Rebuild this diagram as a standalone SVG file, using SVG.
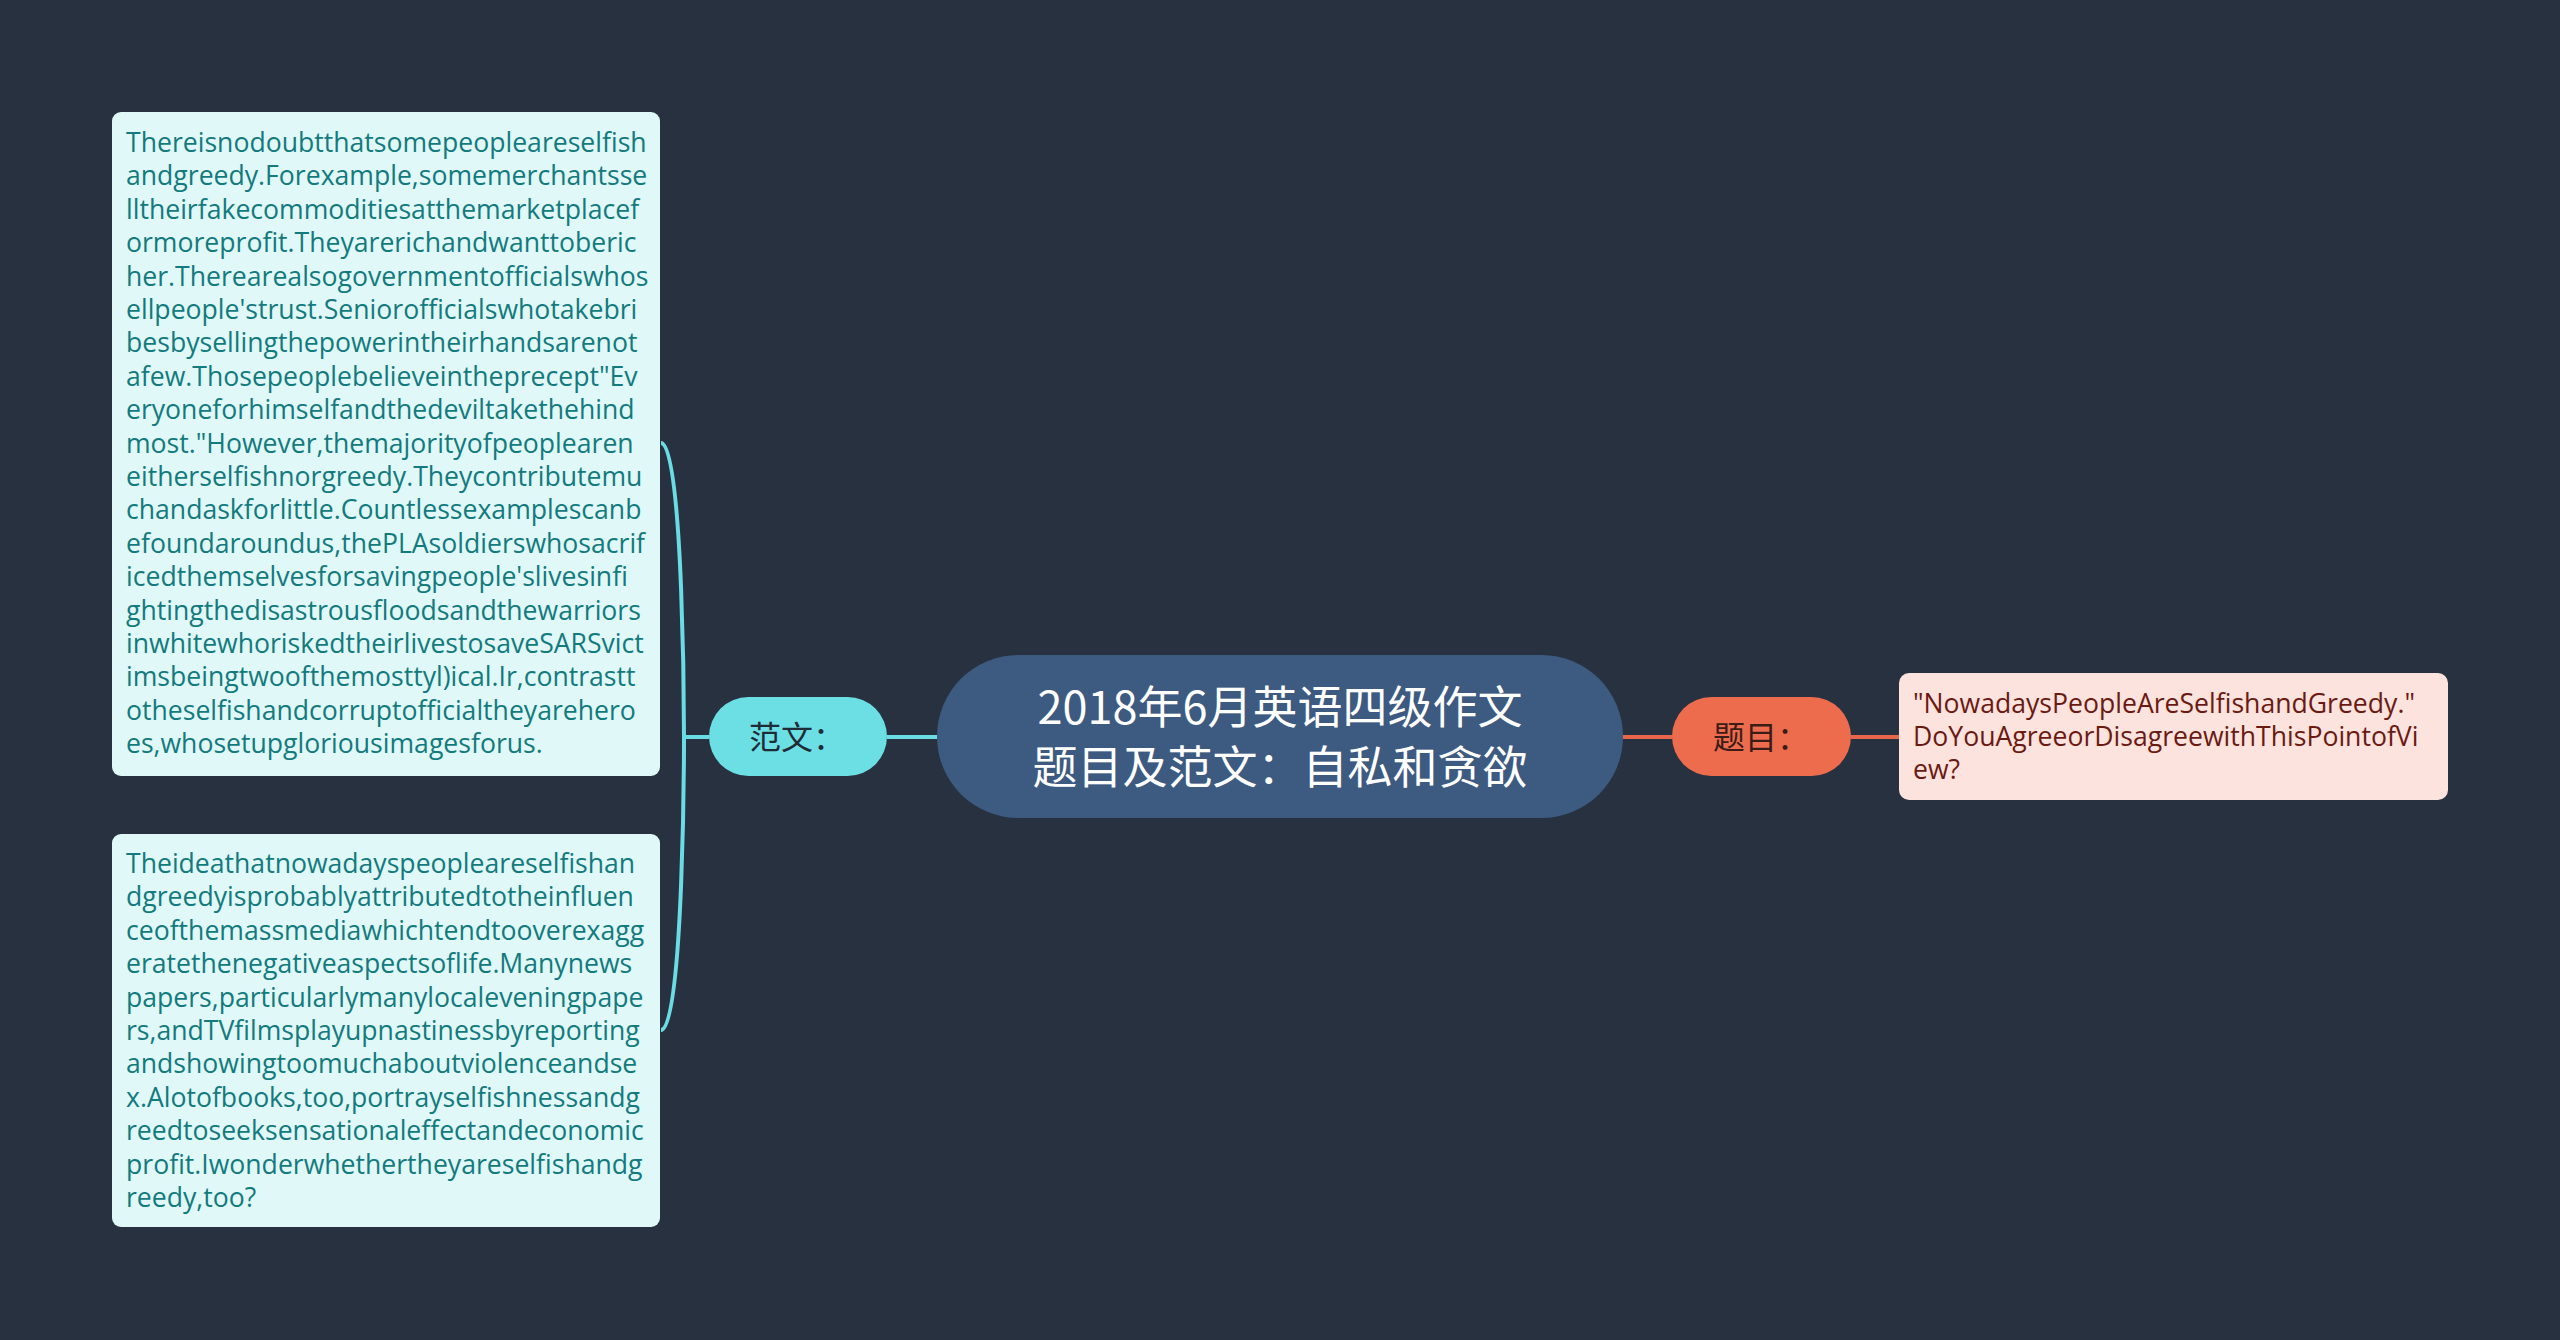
<svg xmlns="http://www.w3.org/2000/svg" width="2560" height="1340" viewBox="0 0 2560 1340">
<style>
.bg{fill:#283140}
.body{font-family:"Open Sans","Noto Sans",sans-serif;font-size:26.6px}
.teal{fill:#137A7E}
.red{fill:#6B1A12}
.cjk{font-family:"Noto Sans CJK SC","Noto Sans",sans-serif}
.cy{stroke:#6ADCE3;stroke-width:4;fill:none}
.or{stroke:#E8664B;stroke-width:4;fill:none}
</style>
<rect class="bg" x="0" y="0" width="2560" height="1340"/>
<g id="connectors">
<path class="cy" d="M937 737 L887 737"/>
<path class="cy" d="M709 737 L684 737"/>
<path class="cy" d="M661 443 C684 443 684 737 684 737"/>
<path class="cy" d="M661 1030 C684 1030 684 737 684 737"/>
<path class="or" d="M1621 737 L1672 737"/>
<path class="or" d="M1851 737 L1899 737"/>
</g>
<g id="center">
<rect x="937" y="655" width="686" height="163" rx="81.5" fill="#3D5A80"/>
<text class="cjk" x="1280" y="724" font-size="45" fill="#FFFFFF" text-anchor="middle">2018年6月英语四级作文</text>
<text class="cjk" x="1280" y="784" font-size="45" fill="#FFFFFF" text-anchor="middle">题目及范文：自私和贪欲</text>
</g>
<g id="fanwen">
<rect x="709" y="697" width="178" height="79" rx="39.5" fill="#6CDFE5"/>
<text class="cjk" x="797" y="749" font-size="32" fill="#1F2C38" text-anchor="middle">范文：</text>
</g>
<g id="timu">
<rect x="1672" y="697" width="179" height="79" rx="39.5" fill="#EE6C4E"/>
<text class="cjk" x="1761" y="749" font-size="32" fill="#3C1C16" text-anchor="middle">题目：</text>
</g>
<g id="essay1">
<rect x="112" y="112" width="548" height="664" rx="9" fill="#E0F8F8"/>
<text class="body teal">
<tspan x="126" y="152">Thereisnodoubtthatsomepeopleareselfish</tspan>
<tspan x="126" y="185.4">andgreedy.Forexample,somemerchantsse</tspan>
<tspan x="126" y="218.8">lltheirfakecommoditiesatthemarketplacef</tspan>
<tspan x="126" y="252.2">ormoreprofit.Theyarerichandwanttoberic</tspan>
<tspan x="126" y="285.6">her.Therearealsogovernmentofficialswhos</tspan>
<tspan x="126" y="319">ellpeople'strust.Seniorofficialswhotakebri</tspan>
<tspan x="126" y="352.4">besbysellingthepowerintheirhandsarenot</tspan>
<tspan x="126" y="385.8">afew.Thosepeoplebelieveintheprecept"Ev</tspan>
<tspan x="126" y="419.2">eryoneforhimselfandthedeviltakethehind</tspan>
<tspan x="126" y="452.6">most."However,themajorityofpeoplearen</tspan>
<tspan x="126" y="486">eitherselfishnorgreedy.Theycontributemu</tspan>
<tspan x="126" y="519.4">chandaskforlittle.Countlessexamplescanb</tspan>
<tspan x="126" y="552.8">efoundaroundus,thePLAsoldierswhosacrif</tspan>
<tspan x="126" y="586.2">icedthemselvesforsavingpeople'slivesinfi</tspan>
<tspan x="126" y="619.6">ghtingthedisastrousfloodsandthewarriors</tspan>
<tspan x="126" y="653">inwhitewhoriskedtheirlivestosaveSARSvict</tspan>
<tspan x="126" y="686.4">imsbeingtwoofthemosttyl)ical.Ir,contrastt</tspan>
<tspan x="126" y="719.8">otheselfishandcorruptofficialtheyarehero</tspan>
<tspan x="126" y="753.2">es,whosetupgloriousimagesforus.</tspan>
</text>
</g>
<g id="essay2">
<rect x="112" y="834" width="548" height="393" rx="9" fill="#E0F8F8"/>
<text class="body teal">
<tspan x="126" y="873">Theideathatnowadayspeopleareselfishan</tspan>
<tspan x="126" y="906.4">dgreedyisprobablyattributedtotheinfluen</tspan>
<tspan x="126" y="939.8">ceofthemassmediawhichtendtooverexagg</tspan>
<tspan x="126" y="973.2">eratethenegativeaspectsoflife.Manynews</tspan>
<tspan x="126" y="1006.6">papers,particularlymanylocaleveningpape</tspan>
<tspan x="126" y="1040">rs,andTVfilmsplayupnastinessbyreporting</tspan>
<tspan x="126" y="1073.4">andshowingtoomuchaboutviolenceandse</tspan>
<tspan x="126" y="1106.8">x.Alotofbooks,too,portrayselfishnessandg</tspan>
<tspan x="126" y="1140.2">reedtoseeksensationaleffectandeconomic</tspan>
<tspan x="126" y="1173.6">profit.Iwonderwhethertheyareselfishandg</tspan>
<tspan x="126" y="1207">reedy,too?</tspan>
</text>
</g>
<g id="question">
<rect x="1899" y="673" width="549" height="127" rx="10" fill="#FCE3DE"/>
<text class="body red">
<tspan x="1913" y="713">"NowadaysPeopleAreSelfishandGreedy."</tspan>
<tspan x="1913" y="746">DoYouAgreeorDisagreewithThisPointofVi</tspan>
<tspan x="1913" y="779">ew?</tspan>
</text>
</g>
</svg>
